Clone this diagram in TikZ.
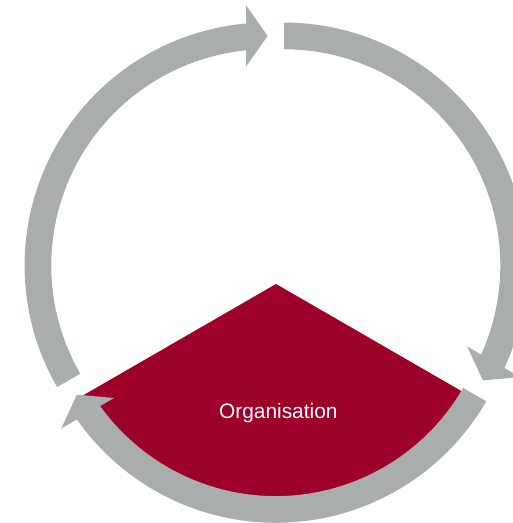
\documentclass[tikz,border=0pt]{standalone}
\usepackage{fontspec}
\setmainfont{Liberation Sans}
\definecolor{arrowgray}{RGB}{169,174,172}
\definecolor{sectorred}{RGB}{157,0,41}
\begin{document}
\begin{tikzpicture}[x=1pt,y=1pt,
  cyclearrow/.style={fill=arrowgray, draw=none},
  sectorshape/.style={fill=sectorred, draw=none},
  orgtext/.style={text=white, inner sep=0pt, font=\fontsize{20.9}{25}\selectfont}]
\clip (-275.8,-252.7) rectangle (237.2,270.3);
% red pie sector
\fill[sectorshape] (0.2,-13.7) -- ++(210:226) arc[start angle=210,end angle=330,radius=226] -- cycle;
% three circular arrows
\foreach \shf/\rot in {150/0, 30/-120, 270/-240}{
  \begin{scope}[shift={(\shf:9.5)}, rotate=\rot]
    \fill[cyclearrow] (210:243) arc[start angle=210, end angle=95.08, radius=243]
      -- (-21.5,260.2) -- (0,229.65) -- (-21.5,199.1)
      -- (95.70:216.3) arc[start angle=95.70, end angle=210, radius=216.3] -- cycle;
  \end{scope}
}
\node[orgtext, anchor=base] (org) at (2.5,-148) {Organisation};
\end{tikzpicture}
\end{document}
